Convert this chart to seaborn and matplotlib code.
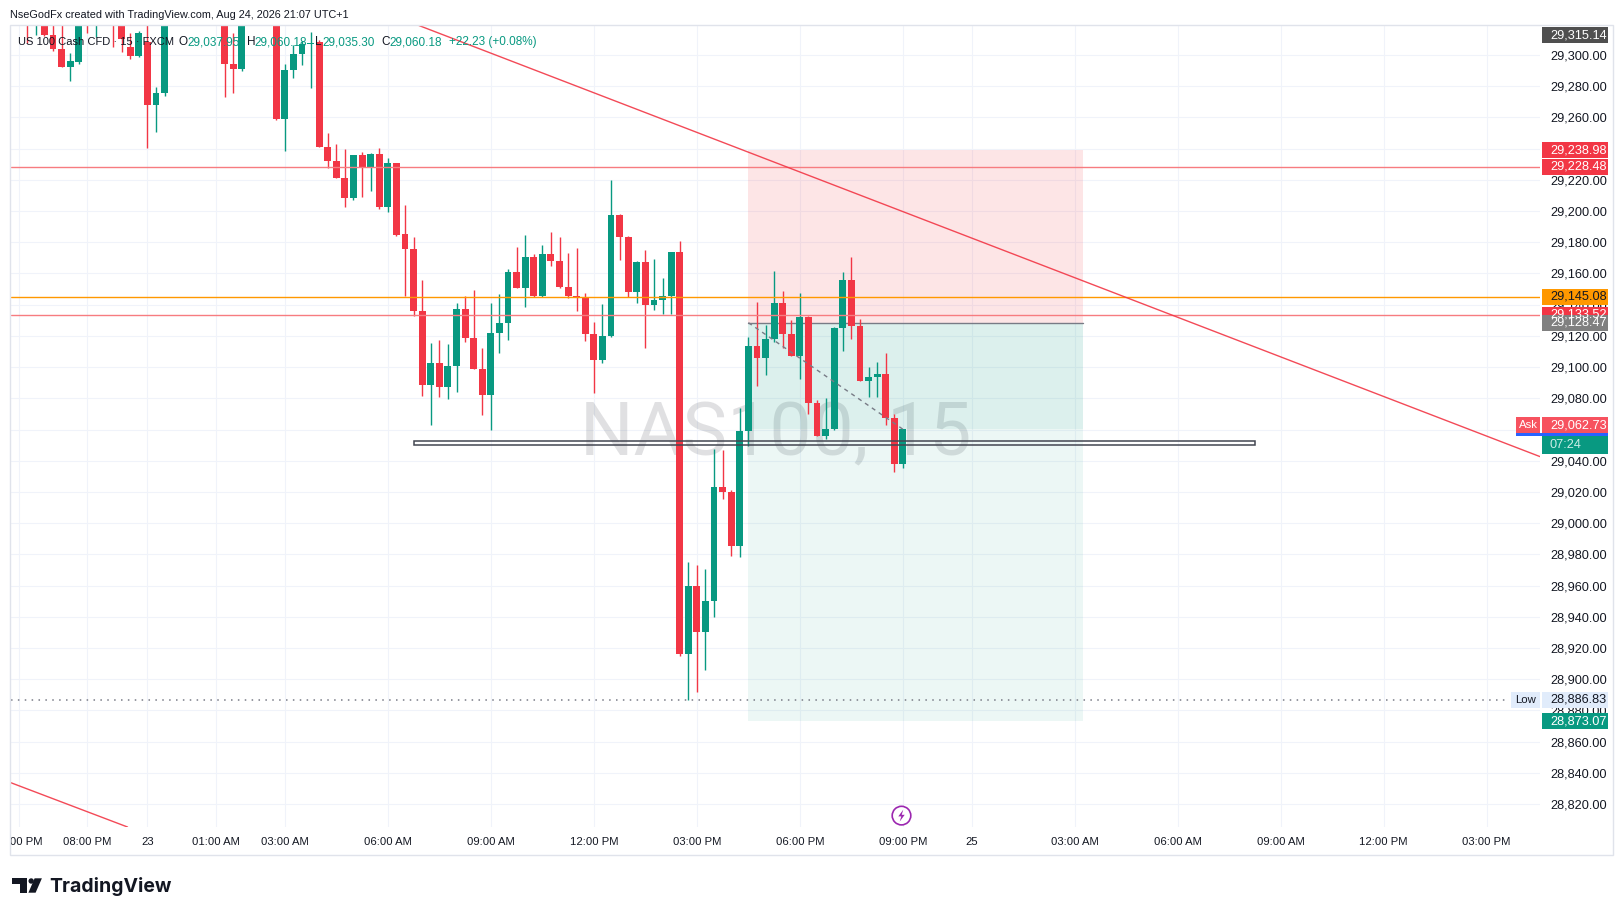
import numpy as np
import pandas as pd
import matplotlib
matplotlib.use("Agg")
import matplotlib.pyplot as plt
import seaborn as sns
from matplotlib.patches import Rectangle, Circle, Polygon
from matplotlib.transforms import Bbox, TransformedBbox, blended_transform_factory

nan = np.nan

# 15 min bars, oldest first (NaN = bar above the visible range)
opens = [29335, 29325, 29328, 29312.8, 29303.7, 29292.5, 29295.5, 29335, 29322, nan,
         29335, 29330, 29304.9, 29299.6, 29308.1, 29268.0, 29275.5, nan, nan, nan,
         nan, nan, nan, 29325, 29294.2, 29291.2, nan, nan, nan, 29330,
         29259.0, 29290.4, 29300.6, 29306.9, 29308.5, 29241.2, 29232.3, 29221.4, 29208.5, 29235.9,
         29228.4, 29236.6, 29202.8, 29230.6, 29185.3, 29175.7, 29136.1, 29088.5, 29102.6, 29087.2,
         29100.7, 29137.2, 29118.6, 29098.8, 29082.1, 29121.8, 29128.2, 29160.9, 29150.7, 29170.5,
         29145.6, 29172.5, 29168.0, 29151.3, 29145.6, 29144.5, 29121.2, 29104.5, 29119.9, 29197.5,
         29183.6, 29148.3, 29167.3, 29140.0, 29143.0, 29145.6, 29173.8, 28916.3, 28959.7, 28930.4,
         28950.1, 29023.2, 29020.1, 28985.5, 29059.0, 29113.5, 29106.0, 29117.9, 29141.1, 29121.2,
         29107.3, 29132.1, 29077.2, 29056.0, 29060.5, 29125.0, 29155.8, 29126.5, 29091.3, 29093.8,
         29095.6, 29067.6, 29037.95]
highs = [29340, 29345, 29332, 29322, 29322, 29301.5, 29330, 29340, 29345, nan,
         29340, 29335, 29314.3, 29315.4, 29325, 29279.3, 29328, nan, nan, nan,
         nan, nan, nan, 29330, 29314.3, 29330, nan, nan, nan, 29335,
         29294.2, 29306.4, 29309.2, 29314.9, 29309.6, 29249.8, 29243.0, 29240.0, 29236, 29237.8,
         29237, 29240.4, 29234.0, 29231, 29203.9, 29183.6, 29155.8, 29115.4, 29117.4, 29115.0,
         29141.1, 29145.6, 29149.4, 29112.2, 29141.1, 29146.8, 29162.9, 29177.0, 29184.6, 29172.5,
         29178.2, 29186.6, 29183.4, 29173.1, 29176.3, 29147.5, 29128.9, 29140.4, 29219.9, 29197.8,
         29184, 29168.2, 29175.0, 29169.3, 29157.1, 29174, 29180.8, 28975.1, 28973.2, 28970.6,
         29047.5, 29046.9, 29021, 29073.8, 29119.3, 29141.7, 29126.9, 29161.6, 29148.8, 29130.2,
         29147.5, 29132.5, 29079.1, 29080.4, 29125.6, 29160.9, 29170.5, 29130.8, 29100.2, 29103.3,
         29109.2, 29070, 29060.18]
lows = [29307.5, 29312.8, 29312, 29302.8, 29292, 29283.3, 29294, 29314.3, 29311.7, nan,
        29305.3, 29302.1, 29297.2, 29299, 29240.6, 29250.8, 29273.9, nan, nan, nan,
        nan, nan, nan, 29273.3, 29275.8, 29289.9, nan, nan, nan, 29258.3,
        29238.7, 29285.5, 29293.6, 29279.0, 29241, 29227.8, 29221.0, 29202.8, 29207.1, 29209.2,
        29213.0, 29201.5, 29199.6, 29184, 29145.6, 29132.7, 29081.5, 29062.9, 29080.8, 29079.5,
        29084.0, 29116.1, 29098.5, 29069.3, 29059.7, 29109.0, 29117.4, 29150.5, 29138.5, 29144.9,
        29145, 29164.8, 29151, 29144.3, 29135.9, 29116.7, 29083.4, 29102.6, 29119.5, 29168.6,
        29145.1, 29141.3, 29112.4, 29136.8, 29134.2, 29134.2, 28915, 28886.83, 28891.8, 28905.9,
        28940.0, 29015.6, 28978.9, 28978, 29049.6, 29088.1, 29095.1, 29116.3, 29112.4, 29107,
        29092.6, 29070.1, 29055.8, 29054.1, 29060, 29110.5, 29118.2, 29091, 29081.0, 29081.0,
        29063.1, 29033, 29035.30]
closes = [29322, 29338, 29312.8, 29303.7, 29292.5, 29296.2, 29326, 29321, 29340, nan,
          29320, 29310.3, 29299.6, 29313.9, 29268.0, 29275.5, 29322, nan, nan, nan,
          nan, nan, nan, 29294.0, 29291.2, 29325, nan, nan, nan, 29259.0,
          29290.4, 29300.6, 29307.0, 29307.5, 29241.2, 29232.3, 29221.4, 29208.5, 29235.9, 29228.4,
          29236.6, 29202.8, 29230.6, 29184.6, 29175.7, 29136.1, 29088.5, 29102.6, 29087.2, 29100.7,
          29137.2, 29118.6, 29098.8, 29082.1, 29121.8, 29128.2, 29160.9, 29150.7, 29170.5, 29145.6,
          29172.5, 29168.0, 29151.3, 29145.6, 29144.5, 29121.2, 29104.5, 29119.9, 29197.5, 29183.6,
          29148.3, 29167.3, 29140.0, 29143.0, 29145.6, 29173.8, 28916.3, 28959.7, 28930.4, 28950.1,
          29023.2, 29020.1, 28985.5, 29059.0, 29113.5, 29106.0, 29117.9, 29141.1, 29121.2, 29107.3,
          29132.1, 29077.2, 29056.0, 29060.5, 29125.0, 29155.8, 29126.5, 29091.3, 29093.8, 29095.6,
          29067.6, 29037.95, 29060.18]

# time axis (bar index -> label)
tick_idx = [-1, 7, 14, 22, 30, 42, 54, 66, 78, 90, 102, 110, 122, 134, 146, 158, 170]
tick_labels = ["06:00 PM", "08:00 PM", "23", "01:00 AM", "03:00 AM", "06:00 AM", "09:00 AM",
               "12:00 PM", "03:00 PM", "06:00 PM", "09:00 PM", "25", "03:00 AM", "06:00 AM",
               "09:00 AM", "12:00 PM", "03:00 PM"]
price_ticks = list(range(28820, 29301, 20))

# drawings
stop_price = 29238.98
red_level_1 = 29228.48
orange_level = 29145.08
red_level_2 = 29133.52
entry_price = 29128.47
target_price = 28873.07
ask_price = 29062.73
high_mark = 29315.14
low_mark = 28886.83
trend_upper = [(113.32, 29175.7), (145.94, 29106.7)]
trend_lower = [(-2.02, 28833.9), (11.77, 28805.1)]
box_prices = (29049.9, 29052.4)
box_bars = (45, 143)
position_bars = (84, 123)

GREEN = "#089981"
RED = "#f23645"
TXT = "#131722"

sns.set_theme(style="white")
plt.rcParams["font.family"] = ["Liberation Sans", "DejaVu Sans"]

W, H = 1623, 916
fig = plt.figure(figsize=(W / 100, H / 100), dpi=100)
fig.patch.set_facecolor("white")

pane_l, pane_r, pane_t, pane_b = 10.5, 1540, 25.5, 827
ax = fig.add_axes([pane_l / W, (H - pane_b) / H, (pane_r - pane_l) / W, (pane_b - pane_t) / H])
ax.set_xlim(-1.957, 176.22)
ax.set_ylim(28805.3, 29318.9)

df = pd.DataFrame({"open": opens, "high": highs, "low": lows, "close": closes})
df["bar"] = np.arange(len(df))
df = df.dropna()
up = df["close"] >= df["open"]
cols = np.where(up, GREEN, RED)

# watermark
ax.text(0.5, 0.464, "NAS100, 15", transform=ax.transAxes, ha="center", va="baseline",
        fontsize=54, family="Roboto", color=TXT, alpha=0.13, zorder=0.6)

# position tool
pl, pr = position_bars
last_close = closes[-1]
ax.add_patch(Rectangle((pl, entry_price), pr - pl, stop_price - entry_price,
                       facecolor=RED, alpha=0.13, lw=0, zorder=1))
ax.add_patch(Rectangle((pl, target_price), pr - pl, entry_price - target_price,
                       facecolor=GREEN, alpha=0.075, lw=0, zorder=1))
ax.add_patch(Rectangle((pl, last_close), pr - pl, entry_price - last_close,
                       facecolor=GREEN, alpha=0.065, lw=0, zorder=1))
ax.plot([pl, pr], [entry_price, entry_price], color="#787b86", lw=1, zorder=2)

# candles
ax.vlines(df["bar"], df["low"], df["high"], colors=cols, lw=1, zorder=3)
body_lo = np.minimum(df["open"], df["close"])
body_h = np.maximum((df["close"] - df["open"]).abs(), 0.8)
ax.bar(df["bar"], body_h, bottom=body_lo, width=0.8, color=cols, lw=0, zorder=3)

# horizontal levels
for lvl, c in [(red_level_1, "#f77c80"), (orange_level, "#ff9800"), (red_level_2, "#f77c80")]:
    ax.axhline(lvl, color=c, lw=1, zorder=4)
ax.axhline(low_mark, xmax=0.98, color="#787b86", lw=1.1, ls=(0, (1, 3.5)), zorder=4)

# trend channel
ax.axline(trend_upper[0], trend_upper[1], color=RED, lw=1, alpha=0.9, zorder=4)
ax.axline(trend_lower[0], trend_lower[1], color=RED, lw=1, alpha=0.9, zorder=4)

# dashed P&L line
sns.lineplot(x=[pl, len(opens) - 1], y=[entry_price, last_close], ax=ax, color="#787b86",
             lw=1, linestyle=(0, (3, 3)), zorder=4)

# rectangle zone
ax.add_patch(Rectangle((box_bars[0], box_prices[0]), box_bars[1] - box_bars[0],
                       box_prices[1] - box_prices[0], fill=False, edgecolor="#434651",
                       lw=1.1, zorder=4))

# grid / axes
ax.set_xticks(tick_idx)
ax.set_xticklabels([])
ax.set_yticks(price_ticks)
ax.set_yticklabels([f"{p:,.2f}" for p in price_ticks])
ax.yaxis.tick_right()
ax.tick_params(axis="y", length=0, pad=7.3, labelsize=9.2, labelcolor=TXT)
ax.tick_params(axis="x", length=0)
ax.grid(True, color="#f0f3fa", lw=0.8)
ax.set_axisbelow(True)
for s in ax.spines.values():
    s.set_visible(False)

tx = blended_transform_factory(ax.transData, ax.transAxes)
clip = TransformedBbox(Bbox([[pane_l / W, 0], [1, 1]]), fig.transFigure)
for i, lab in zip(tick_idx, tick_labels):
    t = ax.text(i, -0.0183, lab, transform=tx, ha="center", va="center", fontsize=8.1, color=TXT)
    t.set_clip_on(True)
    t.set_clip_box(clip)

# overlay in pixel coordinates
ov = fig.add_axes([0, 0, 1, 1], zorder=5)
ov.set_xlim(0, W)
ov.set_ylim(H, 0)
ov.axis("off")


def ypx(p):
    return H - ax.transData.transform((0, p))[1]


ov.add_patch(Rectangle((10, 25), 1603, 830, fill=False, edgecolor="#e0e3eb", lw=1))

ov.text(10, 15, "NseGodFx created with TradingView.com, Aug 24, 2026 21:07 UTC+1",
        fontsize=7.8, color=TXT, va="center", ha="left")

chg = closes[-1] - closes[-2]
pct = chg / closes[-2] * 100
legend = [("US 100 Cash CFD · 15 · FXCM", 18.3, TXT, 8.0),
          ("O", 178.5, TXT, 8.5), (f"{opens[-1]:,.2f}", 187.5, GREEN, 8.5),
          ("H", 246.5, TXT, 8.5), (f"{highs[-1]:,.2f}", 254.5, GREEN, 8.5),
          ("L", 315.2, TXT, 8.5), (f"{lows[-1]:,.2f}", 322, GREEN, 8.5),
          ("C", 381.5, TXT, 8.5), (f"{closes[-1]:,.2f}", 389.5, GREEN, 8.5),
          (f"+{chg:.2f} (+{pct:.2f}%)", 449, GREEN, 8.5)]
for s, x, c, fs in legend:
    ov.text(x, 42.3, s, fontsize=fs, color=c, va="center", ha="left")


def tag(text, yc, face, color="white"):
    ov.add_patch(Rectangle((1541.5, yc - 8), 66.5, 16, facecolor=face, lw=0))
    ov.text(1550, yc, text, fontsize=9.2, color=color, va="center", ha="left")


tag(f"{high_mark:,.2f}", max(ypx(high_mark), 35), "#4f4f4f")
tag(f"{stop_price:,.2f}", ypx(stop_price), RED)
tag(f"{red_level_1:,.2f}", ypx(red_level_1), RED)
tag(f"{orange_level:,.2f}", ypx(orange_level), "#ff9800", TXT)
tag(f"{red_level_2:,.2f}", ypx(red_level_2), RED)
tag(f"{entry_price:,.2f}", ypx(entry_price), "#808080")

# current price + countdown, ask on top
yc = ypx(last_close)
ov.add_patch(Rectangle((1541.5, yc - 8), 66.5, 453.5 - (yc - 8), facecolor=GREEN, lw=0))
ov.text(1550, 445.5, "07:24", fontsize=9.2, color="#cdeee7", va="center", ha="left")
ya = ypx(ask_price)
tag(f"{ask_price:,.2f}", ya, "#f7525f")
ov.add_patch(Rectangle((1516, ya - 8), 24, 16, facecolor="#f7525f", lw=0))
ov.text(1528, ya, "Ask", fontsize=8.2, color="white", va="center", ha="center")
ov.add_patch(Rectangle((1516, ya + 8), 92, 2.6, facecolor="#2962ff", lw=0))

yl = ypx(low_mark)
tag(f"{low_mark:,.2f}", yl, "#e1ecfb", TXT)
ov.add_patch(Rectangle((1511, yl - 8), 29, 16, facecolor="#e1ecfb", lw=0))
ov.text(1525.5, yl, "Low", fontsize=8.2, color=TXT, va="center", ha="center")
tag(f"{target_price:,.2f}", ypx(target_price), GREEN)

# events icon
cx, cy, r = 901.5, 815.6, 9.3
ov.add_patch(Circle((cx, cy), r, facecolor="white", edgecolor="#9c27b0", lw=1.2))
bolt = [(cx + 1.8, cy - 6), (cx - 3.2, cy + 0.8), (cx - 0.2, cy + 0.8), (cx - 1.8, cy + 6),
        (cx + 3.2, cy - 0.8), (cx + 0.2, cy - 0.8)]
ov.add_patch(Polygon(bolt, closed=True, facecolor="#9c27b0", lw=0))

# TradingView logo
ov.add_patch(Rectangle((11.7, 878.3), 15.6, 5.2, facecolor="#131722", lw=0))
ov.add_patch(Rectangle((20.2, 878.3), 7.1, 14.4, facecolor="#131722", lw=0))
ov.add_patch(Circle((31.2, 881.0), 2.7, facecolor="#131722", lw=0))
ov.add_patch(Polygon([(34.6, 878.3), (41.9, 878.3), (35.6, 892.7), (28.4, 892.7)],
                     closed=True, facecolor="#131722", lw=0))
ov.text(49.5, 891.5, "TradingView", fontsize=14, family="Inter", weight="bold",
        color="#131722", va="baseline", ha="left")

fig.savefig("out.png", dpi=100, facecolor="white")
